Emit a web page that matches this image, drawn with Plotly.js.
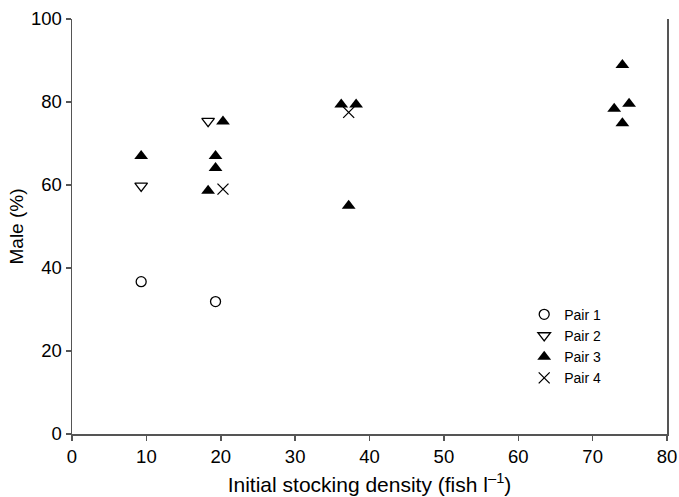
<!DOCTYPE html>
<html>
<head>
<meta charset="utf-8">
<script src="https://cdn.plot.ly/plotly-3.0.1.min.js"></script>
<style>html,body{margin:0;padding:0;background:#fff;}#chart{width:679px;height:497px;}</style>
</head>
<body>
<div id="chart"></div>
<script>
var pair1X = [9.3, 19.3];
var pair1Y = [36.7, 31.9];
var pair2X = [9.3, 18.3];
var pair2Y = [59.8, 75.4];
var pair3X = [9.3, 20.3, 19.3, 19.3, 18.3, 36.2, 38.2, 37.2, 74.0, 72.9, 74.9, 74.0];
var pair3Y = [67.0, 75.3, 67.0, 64.1, 58.6, 79.4, 79.4, 55.0, 88.9, 78.4, 79.6, 74.9];
var pair4X = [20.3, 37.2];
var pair4Y = [59.0, 77.5];
var seriesNames = ["Pair 1", "Pair 2", "Pair 3", "Pair 4"];
var xTicks = [0, 10, 20, 30, 40, 50, 60, 70, 80];
var yTicks = [0, 20, 40, 60, 80, 100];

var traces = [
  {x: pair1X, y: pair1Y, name: seriesNames[0], mode: "markers", type: "scatter",
   marker: {symbol: "circle-open", size: 10, color: "#000", line: {width: 1.3, color: "#000"}}},
  {x: pair2X, y: pair2Y, name: seriesNames[1], mode: "markers", type: "scatter",
   marker: {symbol: "triangle-down-open", size: 11, color: "#000", line: {width: 1.3, color: "#000"}}},
  {x: pair3X, y: pair3Y, name: seriesNames[2], mode: "markers", type: "scatter",
   marker: {symbol: "triangle-up", size: 12, color: "#000", line: {width: 0}}},
  {x: pair4X, y: pair4Y, name: seriesNames[3], mode: "markers", type: "scatter",
   marker: {symbol: "x-thin-open", size: 11, color: "#000", line: {width: 1.3, color: "#000"}}}
];

var layout = {
  width: 679, height: 497,
  margin: {l: 72, r: 12, t: 19, b: 63},
  paper_bgcolor: "#fff", plot_bgcolor: "#fff",
  font: {family: "Liberation Sans, Arial, sans-serif", color: "#000", size: 18},
  showlegend: true,
  legend: {x: 0.76, y: 0.326, xanchor: "left", yanchor: "top",
           font: {size: 14, color: "#000"}, bgcolor: "rgba(0,0,0,0)",
           tracegroupgap: 0, itemwidth: 30},
  xaxis: {range: [0, 80], tickvals: xTicks,
          showgrid: false, zeroline: false, showline: true, linecolor: "#555", linewidth: 1.5,
          ticks: "outside", ticklen: 5, tickcolor: "#555", tickwidth: 1.5,
          tickfont: {size: 18.5}, mirror: false,
          title: {text: "Initial stocking density (fish l<sup>–1</sup>)", font: {size: 21}, standoff: 11}},
  yaxis: {range: [0, 100], tickvals: yTicks,
          showgrid: false, zeroline: false, showline: true, linecolor: "#555", linewidth: 1.5,
          ticks: "outside", ticklen: 5, tickcolor: "#555", tickwidth: 1.5,
          tickfont: {size: 18.5}, mirror: true,
          title: {text: "Male (%)", font: {size: 19}, standoff: 2}}
};

Plotly.newPlot("chart", traces, layout, {staticPlot: true, displayModeBar: false});
</script>
</body>
</html>
